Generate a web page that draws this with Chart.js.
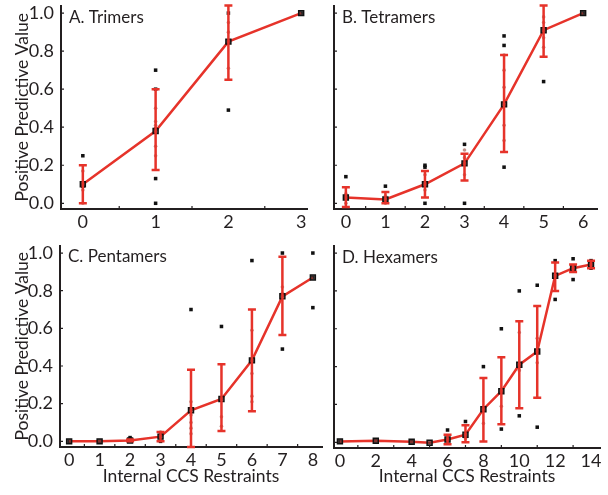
<!DOCTYPE html>
<html>
<head>
<meta charset="utf-8">
<script src="https://cdn.jsdelivr.net/npm/chart.js@4/dist/chart.umd.min.js"></script>
<style>
  body { margin: 0; background: #fff; width: 608px; height: 495px; position: relative; overflow: hidden; }
  canvas { position: absolute; }
</style>
</head>
<body>
<canvas id="cA" width="320" height="240" style="left:0;top:0"></canvas>
<canvas id="cB" width="308" height="240" style="left:300px;top:0"></canvas>
<canvas id="cC" width="330" height="255" style="left:0;top:240px"></canvas>
<canvas id="cD" width="308" height="255" style="left:300px;top:240px"></canvas>
<script>
// A. Trimers
const aX = [0, 1, 2, 3];
const aPPV = [0.10, 0.38, 0.85, 1.00];
const aLow = [0.00, 0.175, 0.65, null];
const aHigh = [0.20, 0.60, 1.04, null];
const aPtsX = [0, 0, 0, 1, 1, 1, 1, 1, 2, 2, 2, 3];
const aPtsY = [0.25, 0.10, 0.09, 0.70, 0.60, 0.39, 0.13, 0.00, 0.49, 0.85, 1.00, 1.00];
const aSpreadX = [0, 0, 0, 1, 1, 1, 1, 1, 2, 2, 2];
const aSpreadY = [0.17, 0.07, 0.00, 0.50, 0.43, 0.41, 0.30, 0.25, 0.95, 0.90, 0.71];
const aTicks = [0, 1, 2, 3];

// B. Tetramers
const bX = [0, 1, 2, 3, 4, 5, 6];
const bPPV = [0.03, 0.02, 0.10, 0.21, 0.52, 0.91, 1.00];
const bLow = [-0.02, 0.00, 0.03, 0.12, 0.27, 0.77, null];
const bHigh = [0.085, 0.06, 0.17, 0.26, 0.78, 1.04, null];
const bPtsX = [0, 0, 1, 1, 2, 2, 2, 2, 3, 3, 3, 4, 4, 4, 4, 5, 5, 6];
const bPtsY = [0.14, 0.03, 0.09, 0.02, 0.20, 0.19, 0.10, 0.00, 0.31, 0.21, 0.00, 0.88, 0.83, 0.52, 0.19, 0.91, 0.64, 1.00];
const bSpreadX = [0, 0, 1, 1, 2, 2, 3, 3, 3, 4, 4, 4, 4, 4, 5, 5, 5, 5];
const bSpreadY = [0.05, 0.00, 0.04, 0.00, 0.15, 0.07, 0.28, 0.24, 0.15, 0.78, 0.70, 0.61, 0.41, 0.33, 0.98, 0.95, 0.87, 0.82];
const bTicks = [0, 1, 2, 3, 4, 5, 6];

// C. Pentamers
const cX = [0, 1, 2, 3, 4, 5, 6, 7, 8];
const cPPV = [0.00, 0.00, 0.005, 0.025, 0.165, 0.225, 0.43, 0.77, 0.87];
const cLow = [null, null, 0.00, 0.00, -0.03, 0.055, 0.16, 0.565, null];
const cHigh = [null, null, 0.01, 0.05, 0.38, 0.41, 0.70, 0.98, null];
const cPtsX = [0, 1, 2, 3, 3, 4, 4, 5, 5, 6, 6, 7, 7, 7, 8, 8, 8];
const cPtsY = [0.00, 0.00, 0.02, 0.04, 0.00, 0.70, 0.17, 0.61, 0.23, 0.96, 0.43, 1.00, 0.78, 0.49, 1.00, 0.87, 0.71];
const cSpreadX = [3, 3, 4, 4, 4, 4, 4, 5, 5, 6, 6, 6, 6, 7];
const cSpreadY = [0.05, 0.01, 0.21, 0.14, 0.10, 0.07, 0.04, 0.13, 0.08, 0.59, 0.36, 0.24, 0.21, 0.82];
const cTicks = [0, 1, 2, 3, 4, 5, 6, 7, 8];

// D. Hexamers
const dX = [0, 2, 4, 5, 6, 7, 8, 9, 10, 11, 12, 13, 14];
const dPPV = [0.005, 0.008, 0.003, -0.002, 0.015, 0.04, 0.175, 0.27, 0.41, 0.48, 0.88, 0.92, 0.94];
const dLow = [null, null, null, null, -0.01, 0.00, 0.005, 0.096, 0.18, 0.236, 0.80, 0.90, 0.92];
const dHigh = [null, null, null, null, 0.04, 0.09, 0.34, 0.45, 0.64, 0.72, 0.95, 0.94, 0.96];
const dPtsX = [0, 2, 4, 6, 6, 7, 7, 8, 8, 9, 9, 9, 10, 10, 10, 11, 11, 11, 12, 12, 12, 13, 13, 13, 14, 14, 14];
const dPtsY = [0.005, 0.008, 0.003, 0.065, 0.015, 0.11, 0.04, 0.40, 0.175, 0.60, 0.27, 0.07, 0.80, 0.41, 0.14, 0.83, 0.48, 0.08, 0.96, 0.88, 0.755, 0.97, 0.92, 0.86, 0.96, 0.94, 0.92];
const dSpreadX = [7, 8, 9, 10, 10, 11, 11];
const dSpreadY = [0.02, 0.10, 0.19, 0.58, 0.38, 0.55, 0.42];
const dTicks = [0, 2, 4, 6, 8, 10, 12, 14];

const yTicks = [0, 0.2, 0.4, 0.6, 0.8, 1.0];

const RED = '#e6332a';
const TEXT = '#231f20';
Chart.defaults.font.family = 'Lato';
Chart.defaults.color = TEXT;

const pairs = (xs, ys) => xs.map((x, i) => ({ x: x, y: ys[i] }));

// error bars, inward tick marks and panel letter, placed with the chart's own scales
function panelPlugin(label, xs, low, high, minorX) {
  return {
    id: 'panel',
    afterDatasetsDraw(chart) {
      const { ctx, chartArea, scales: { x, y } } = chart;
      ctx.save();
      // small ticks pointing into the plot
      ctx.strokeStyle = TEXT;
      ctx.lineWidth = 1.2;
      ctx.beginPath();
      yTicks.forEach(v => {
        const py = y.getPixelForValue(v);
        ctx.moveTo(chartArea.left, py); ctx.lineTo(chartArea.left + 3, py);
      });
      minorX.forEach(v => {
        const px = x.getPixelForValue(v);
        ctx.moveTo(px, chartArea.bottom); ctx.lineTo(px, chartArea.bottom - 3);
      });
      ctx.stroke();

      ctx.strokeStyle = RED;
      ctx.lineWidth = 2.5;
      xs.forEach((v, i) => {
        if (low[i] == null || high[i] == null) return;
        const px = x.getPixelForValue(v);
        const p1 = y.getPixelForValue(low[i]);
        const p2 = y.getPixelForValue(high[i]);
        ctx.beginPath();
        ctx.moveTo(px, p1); ctx.lineTo(px, p2);
        ctx.moveTo(px - 4, p1); ctx.lineTo(px + 4, p1);
        ctx.moveTo(px - 4, p2); ctx.lineTo(px + 4, p2);
        ctx.stroke();
      });
      ctx.fillStyle = TEXT;
      ctx.font = '17px Lato';
      ctx.textBaseline = 'alphabetic';
      ctx.fillText(label, chartArea.left + 8, y.getPixelForValue(0.95));
      ctx.restore();
    }
  };
}

function makePanel(id, p) {
  new Chart(document.getElementById(id), {
    type: 'scatter',
    data: {
      datasets: [
        {
          data: pairs(p.xs, p.ppv),
          showLine: true,
          borderColor: RED,
          borderWidth: 2.5,
          tension: 0,
          pointStyle: 'rect',
          pointRadius: 3.5,
          pointBorderWidth: 1.5,
          pointBorderColor: '#111',
          pointBackgroundColor: 'rgba(60,50,50,0.6)',
          clip: false
        },
        {
          data: pairs(p.spreadX, p.spreadY),
          pointStyle: 'circle',
          pointRadius: 1.8,
          borderWidth: 0,
          backgroundColor: 'rgba(150,70,60,0.6)',
          clip: false
        },
        {
          data: pairs(p.ptsX, p.ptsY),
          pointStyle: 'rect',
          pointRadius: 2.5,
          borderWidth: 0,
          backgroundColor: '#111',
          clip: false
        }
      ]
    },
    options: {
      responsive: false,
      animation: false,
      layout: { padding: { left: 0, right: p.padRight, top: 5, bottom: 0 } },
      plugins: { legend: { display: false }, tooltip: { enabled: false } },
      scales: {
        x: {
          min: p.xMin, max: p.xMax,
          afterBuildTicks: s => { s.ticks = p.xTicks.map(v => ({ value: v })); },
          afterFit: s => { s.height = p.xHeight; s.paddingLeft = 0; s.paddingRight = 0; },
          grid: { display: false, drawTicks: false },
          border: { color: TEXT, width: 2 },
          ticks: { font: { size: 18 }, padding: 2, maxRotation: 0 },
          title: {
            display: p.xTitle,
            text: 'Internal CCS Restraints',
            font: { size: 17.5 },
            padding: { top: 0, bottom: 8 }
          }
        },
        y: {
          min: -0.03, max: 1.04,
          afterBuildTicks: s => { s.ticks = yTicks.map(v => ({ value: v })); },
          afterFit: s => { s.width = p.yWidth; s.paddingTop = 0; s.paddingBottom = 0; },
          grid: { display: false, drawTicks: false },
          border: { color: TEXT, width: 2 },
          ticks: {
            display: p.yLabels,
            font: { size: 18 },
            padding: 7,
            callback: v => v.toFixed(1)
          },
          title: {
            display: p.yLabels,
            text: 'Positive Predictive Value',
            font: { size: 17.5 },
            padding: { top: 12, bottom: 0 }
          }
        }
      }
    },
    plugins: [panelPlugin(p.label, p.xs, p.low, p.high, p.minorX)]
  });
}

makePanel('cA', {
  label: 'A. Trimers', xs: aX, ppv: aPPV, low: aLow, high: aHigh,
  ptsX: aPtsX, ptsY: aPtsY, spreadX: aSpreadX, spreadY: aSpreadY, xTicks: aTicks, minorX: [0.5, 1.5, 2.5],
  xMin: -0.3, xMax: 3.08, yWidth: 61, padRight: 13, xHeight: 31, xTitle: false, yLabels: true
});
makePanel('cB', {
  label: 'B. Tetramers', xs: bX, ppv: bPPV, low: bLow, high: bHigh,
  ptsX: bPtsX, ptsY: bPtsY, spreadX: bSpreadX, spreadY: bSpreadY, xTicks: bTicks, minorX: [0.5, 1.5, 2.5, 3.5, 4.5, 5.5],
  xMin: -0.3, xMax: 6.35, yWidth: 34, padRight: 11, xHeight: 31, xTitle: false, yLabels: false
});
makePanel('cC', {
  label: 'C. Pentamers', xs: cX, ppv: cPPV, low: cLow, high: cHigh,
  ptsX: cPtsX, ptsY: cPtsY, spreadX: cSpreadX, spreadY: cSpreadY, xTicks: cTicks, minorX: [0.5, 1.5, 2.5, 3.5, 4.5, 5.5, 6.5, 7.5],
  xMin: -0.3, xMax: 8.3, yWidth: 60, padRight: 8, xHeight: 48, xTitle: true, yLabels: true
});
makePanel('cD', {
  label: 'D. Hexamers', xs: dX, ppv: dPPV, low: dLow, high: dHigh,
  ptsX: dPtsX, ptsY: dPtsY, spreadX: dSpreadX, spreadY: dSpreadY, xTicks: dTicks, minorX: [1, 3, 5, 7, 9, 11, 13],
  xMin: -0.33, xMax: 14.5, yWidth: 34, padRight: 8, xHeight: 47, xTitle: true, yLabels: false
});
</script>
</body>
</html>
